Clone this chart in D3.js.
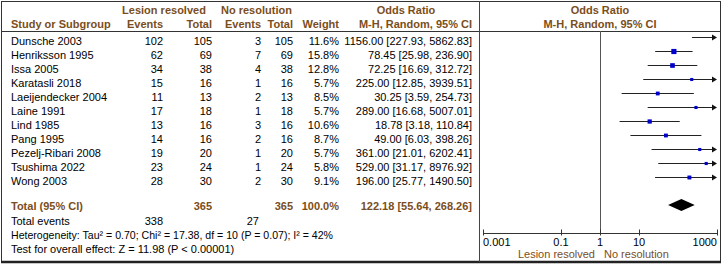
<!DOCTYPE html>
<meta charset="utf-8">
<style type="text/css">
body { margin: 0; background: #fff; }
svg { font-family: "Liberation Sans", Arial, sans-serif; font-size: 11px; }
.hdr { fill: #7a4e1c; font-weight: bold; }
.tot { fill: #7a4e1c; font-weight: bold; }
</style>
<body>
<div id="chart"></div>
<script src="https://d3js.org/d3.v7.min.js"></script>
<script>
var width = 723,
    height = 265;

// study data
var studies = ['Dunsche 2003', 'Henriksson 1995', 'Issa 2005', 'Karatasli 2018', 'Laeijendecker 2004',
  'Laine 1991', 'Lind 1985', 'Pang 1995', 'Pezelj-Ribari 2008', 'Tsushima 2022', 'Wong 2003'];
var resEvents = [102, 62, 34, 15, 11, 17, 13, 14, 19, 23, 28];
var resTotal = [105, 69, 38, 16, 13, 18, 16, 16, 20, 24, 30];
var noEvents = [3, 7, 4, 1, 2, 1, 3, 2, 1, 1, 2];
var noTotal = [105, 69, 38, 16, 13, 18, 16, 16, 20, 24, 30];
var weights = [11.6, 15.8, 12.8, 5.7, 8.5, 5.7, 10.6, 8.7, 5.7, 5.8, 9.1];
var oddsRatio = [1156.00, 78.45, 72.25, 225.00, 30.25, 289.00, 18.78, 49.00, 361.00, 529.00, 196.00];
var ciLow = [227.93, 25.98, 16.69, 12.85, 3.59, 16.68, 3.18, 6.03, 21.01, 31.17, 25.77];
var ciHigh = [5862.83, 236.90, 312.72, 3939.51, 254.73, 5007.01, 110.84, 398.26, 6202.41, 8976.92, 1490.50];

// pooled
var pooled = { or: 122.18, lo: 55.64, hi: 268.26 };
var totalRes = 365, totalNo = 365, totalEventsRes = 338, totalEventsNo = 27;

var axisTicks = [0.001, 0.1, 1, 10, 1000];
var tickLabels = ['0.001', '0.1', '1', '10', '1000'];

var f2 = d3.format('.2f'),
    f1 = d3.format('.1f');

var svg = d3.select('#chart').append('svg')
  .attr('width', width)
  .attr('height', height);

var x = d3.scaleLog().domain([0.001, 1000]).range([483, 717]);
var rowY = function(i) { return 37.5 + i * 14; };

// frame
svg.append('rect')
  .attr('x', 1.5).attr('y', 1.5)
  .attr('width', 719).attr('height', 260)
  .attr('fill', 'none').attr('stroke', '#333');
svg.append('line')
  .attr('x1', 1).attr('x2', 721).attr('y1', 262).attr('y2', 262)
  .attr('stroke', '#222').attr('stroke-width', 2.5);
svg.append('line')
  .attr('x1', 1).attr('x2', 721).attr('y1', 31.5).attr('y2', 31.5)
  .attr('stroke', '#333');
svg.append('line')
  .attr('x1', 479.5).attr('x2', 479.5).attr('y1', 1).attr('y2', 262)
  .attr('stroke', '#444');

// headers
function text(x0, y0, s, anchor, cls) {
  return svg.append('text')
    .attr('x', x0).attr('y', y0)
    .attr('text-anchor', anchor || 'start')
    .attr('class', cls || null)
    .text(s);
}
text(164, 14, 'Lesion resolved', 'middle', 'hdr');
text(221, 14, 'No resolution', 'start', 'hdr');
text(406, 14, 'Odds Ratio', 'middle', 'hdr');
text(600, 14, 'Odds Ratio', 'middle', 'hdr');
text(11, 28, 'Study or Subgroup', 'start', 'hdr');
text(163, 28, 'Events', 'end', 'hdr');
text(212, 28, 'Total', 'end', 'hdr');
text(261, 28, 'Events', 'end', 'hdr');
text(293, 28, 'Total', 'end', 'hdr');
text(339, 28, 'Weight', 'end', 'hdr');
text(472, 28, 'M-H, Random, 95% CI', 'end', 'hdr');
text(600, 28, 'M-H, Random, 95% CI', 'middle', 'hdr');

// table rows
var rows = svg.selectAll('g.row')
  .data(studies)
  .enter().append('g')
    .attr('class', 'row')
    .attr('transform', function(d, i) { return 'translate(0,' + (rowY(i) + 7) + ')'; });

var cols = [
  { x: 11, anchor: 'start', val: function(d, i) { return d; } },
  { x: 163, anchor: 'end', val: function(d, i) { return resEvents[i]; } },
  { x: 212, anchor: 'end', val: function(d, i) { return resTotal[i]; } },
  { x: 261, anchor: 'end', val: function(d, i) { return noEvents[i]; } },
  { x: 293, anchor: 'end', val: function(d, i) { return noTotal[i]; } },
  { x: 339, anchor: 'end', val: function(d, i) { return f1(weights[i]) + '%'; } },
  { x: 472, anchor: 'end', val: function(d, i) {
      return f2(oddsRatio[i]) + ' [' + f2(ciLow[i]) + ', ' + f2(ciHigh[i]) + ']'; } }
];
cols.forEach(function(c) {
  rows.append('text')
    .attr('x', c.x)
    .attr('text-anchor', c.anchor)
    .text(function(d, i) { return c.val(d, i); });
});

// totals
text(11, 210, 'Total (95% CI)', 'start', 'tot');
text(212, 210, totalRes, 'end', 'tot');
text(293, 210, totalNo, 'end', 'tot');
text(339, 210, '100.0%', 'end', 'tot');
text(472, 210, f2(pooled.or) + ' [' + f2(pooled.lo) + ', ' + f2(pooled.hi) + ']', 'end', 'tot');
text(11, 225, 'Total events');
text(163, 225, totalEventsRes, 'end');
text(259, 225, totalEventsNo, 'end');
text(11, 239, 'Heterogeneity: Tau\u00b2 = 0.70; Chi\u00b2 = 17.38, df = 10 (P = 0.07); I\u00b2 = 42%')
  .attr('textLength', 322).attr('lengthAdjust', 'spacingAndGlyphs');
text(11, 253, 'Test for overall effect: Z = 11.98 (P < 0.00001)');

// null line
svg.append('line')
  .attr('x1', x(1) + 0.5).attr('x2', x(1) + 0.5)
  .attr('y1', 31).attr('y2', 233)
  .attr('stroke', '#555');

// CI lines
var maxX = x.range()[1];
var marks = svg.selectAll('g.mark')
  .data(studies)
  .enter().append('g')
    .attr('class', 'mark');

marks.append('line')
  .attr('x1', function(d, i) { return x(Math.max(ciLow[i], 0.001)); })
  .attr('x2', function(d, i) { return ciHigh[i] > 1000 ? maxX - 4 : x(ciHigh[i]); })
  .attr('y1', function(d, i) { return rowY(i); })
  .attr('y2', function(d, i) { return rowY(i); })
  .attr('stroke', '#222');

marks.filter(function(d, i) { return ciHigh[i] > 1000; })
  .append('path')
  .attr('d', function(d) {
    var i = studies.indexOf(d), y = rowY(i);
    return 'M' + (maxX - 5) + ',' + (y - 3) + 'L' + maxX + ',' + y + 'L' + (maxX - 5) + ',' + (y + 3) + 'Z';
  })
  .attr('fill', '#111');

marks.filter(function(d, i) { return oddsRatio[i] <= 1000; })
  .append('rect')
  .attr('x', function(d) { var i = studies.indexOf(d); return x(oddsRatio[i]) - Math.sqrt(weights[i]) * 0.65; })
  .attr('y', function(d) { var i = studies.indexOf(d); return rowY(i) - Math.sqrt(weights[i]) * 0.65; })
  .attr('width', function(d) { var i = studies.indexOf(d); return Math.sqrt(weights[i]) * 1.3; })
  .attr('height', function(d) { var i = studies.indexOf(d); return Math.sqrt(weights[i]) * 1.3; })
  .attr('fill', '#0000cc');

// pooled diamond
var dy = 205;
svg.append('path')
  .attr('d', 'M' + x(pooled.lo) + ',' + dy + 'L' + x(pooled.or) + ',' + (dy - 6) +
        'L' + x(pooled.hi) + ',' + dy + 'L' + x(pooled.or) + ',' + (dy + 6) + 'Z')
  .attr('fill', '#000');

// axis
var axisY = 233.5;
svg.append('line')
  .attr('x1', x(0.001)).attr('x2', x(1000))
  .attr('y1', axisY).attr('y2', axisY)
  .attr('stroke', '#333');
svg.selectAll('line.tick')
  .data(axisTicks)
  .enter().append('line')
    .attr('class', 'tick')
    .attr('x1', function(d) { return Math.round(x(d)) + 0.5; })
    .attr('x2', function(d) { return Math.round(x(d)) + 0.5; })
    .attr('y1', axisY - 4).attr('y2', axisY + 2)
    .attr('stroke', '#333');
svg.selectAll('text.ticklab')
  .data(axisTicks)
  .enter().append('text')
    .attr('class', 'ticklab')
    .attr('x', function(d) { return x(d); })
    .attr('y', 246)
    .attr('text-anchor', function(d, i) { return i === 0 ? 'start' : (i === axisTicks.length - 1 ? 'end' : 'middle'); })
    .text(function(d, i) { return tickLabels[i]; });

text(595, 258, 'Lesion resolved', 'end').attr('fill', '#7a4e1c');
text(604, 258, 'No resolution', 'start').attr('fill', '#7a4e1c');
</script>
</body>
